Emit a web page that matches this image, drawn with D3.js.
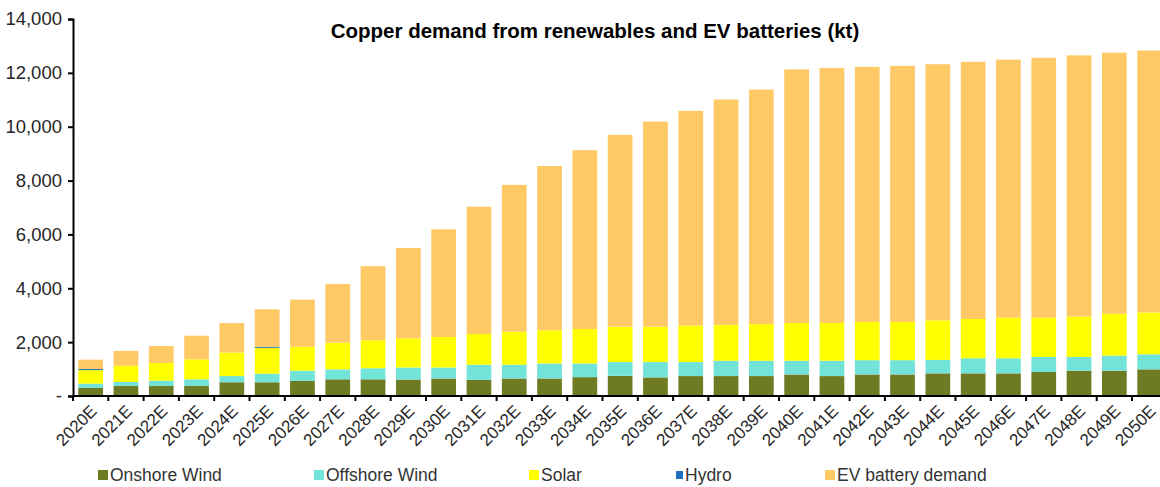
<!DOCTYPE html>
<html>
<head>
<meta charset="utf-8">
<script src="https://cdn.jsdelivr.net/npm/d3@7"></script>
<style>
	body { margin: 0; background: #fff; }
	svg { display: block; font-family: 'Liberation Sans', Arial, sans-serif; }
	.axis path, .axis line { stroke: #000; stroke-width: 2; }
	.axis text { fill: #262626; }
</style>
</head>
<body>
<div id="chart"></div>
<script>
var years = [ '2020E', '2021E', '2022E', '2023E', '2024E', '2025E', '2026E', '2027E', '2028E', '2029E',
	'2030E', '2031E', '2032E', '2033E', '2034E', '2035E', '2036E', '2037E', '2038E', '2039E',
	'2040E', '2041E', '2042E', '2043E', '2044E', '2045E', '2046E', '2047E', '2048E', '2049E', '2050E' ];

var onshoreWind = [ 300, 370, 370, 370, 510, 510, 560, 620, 620, 610, 650, 600, 650, 650, 700, 750,
	690, 740, 740, 740, 800, 740, 800, 800, 840, 840, 840, 890, 940, 940, 990 ];
var offshoreWind = [ 160, 150, 200, 250, 230, 320, 380, 370, 410, 450, 410, 560, 510, 560, 510, 510,
	570, 520, 570, 570, 510, 570, 530, 530, 500, 560, 560, 560, 510, 560, 560 ];
var solar = [ 500, 605, 655, 740, 870, 960, 890, 990, 1040, 1080, 1130, 1140, 1230, 1230, 1280, 1310,
	1310, 1360, 1330, 1360, 1400, 1400, 1420, 1420, 1470, 1460, 1510, 1460, 1500, 1550, 1550 ];
var hydro = [ 40, 0, 0, 0, 0, 40, 0, 0, 0, 0, 0, 0, 0, 0, 0, 0,
	0, 0, 0, 0, 0, 0, 0, 0, 0, 0, 0, 0, 0, 0, 0 ];
var evBattery = [ 350, 550, 630, 880, 1100, 1390, 1750, 2180, 2750, 3360, 4000, 4730, 5450, 6100, 6640, 7130,
	7620, 7970, 8370, 8710, 9420, 9470, 9470, 9510, 9510, 9550, 9580, 9650, 9700, 9700, 9730 ];

var yTicks = [ 0, 2000, 4000, 6000, 8000, 10000, 12000, 14000 ];

var series = [
	{ key: 'onshore', name: 'Onshore Wind', color: '#6e7b22', values: onshoreWind },
	{ key: 'offshore', name: 'Offshore Wind', color: '#72e3d9', values: offshoreWind },
	{ key: 'solar', name: 'Solar', color: '#ffff00', values: solar },
	{ key: 'hydro', name: 'Hydro', color: '#1f6fc0', values: hydro },
	{ key: 'ev', name: 'EV battery demand', color: '#ffc966', values: evBattery }
];

var sizes = { width: 1160, height: 487 };
var padding = { top: 19, left: 73, bottom: 91 };

var els = {};
els.svg = d3.select( '#chart' ).append( 'svg' )
	.attr( 'width', sizes.width )
	.attr( 'height', sizes.height );

var table = years.map( function ( y, i ) {
	var row = { year: y };
	series.forEach( function ( s ) { row[s.key] = s.values[i]; } );
	return row;
} );

var stack = d3.stack().keys( series.map( function ( s ) { return s.key; } ) );
var layers = stack( table );

var scales = {};
scales.x = d3.scaleBand()
	.domain( years )
	.range( [ padding.left, padding.left + years.length * 35.3 ] )
	.paddingInner( 0.3 )
	.paddingOuter( 0.15 );

scales.y = d3.scaleLinear()
	.domain( [ 0, 14000 ] )
	.range( [ sizes.height - padding.bottom, padding.top ] );

// bars
els.svg.selectAll( 'g.layer' )
	.data( layers )
	.enter()
	.append( 'g' )
	.classed( 'layer', true )
	.attr( 'fill', function ( d, i ) { return series[i].color; } )
	.selectAll( 'rect' )
	.data( function ( d ) { return d; } )
	.enter()
	.append( 'rect' )
	.attr( 'x', function ( d ) { return scales.x( d.data.year ); } )
	.attr( 'width', scales.x.bandwidth() )
	.attr( 'y', function ( d ) { return scales.y( d[1] ); } )
	.attr( 'height', function ( d ) { return scales.y( d[0] ) - scales.y( d[1] ); } );

// y axis
els.yAxis = els.svg.append( 'g' )
	.classed( 'axis', true )
	.attr( 'transform', 'translate(' + padding.left + ',0)' )
	.call( d3.axisLeft( scales.y )
		.tickValues( yTicks )
		.tickSize( 5 )
		.tickPadding( 6 )
		.tickFormat( function ( d ) { return d === 0 ? '-' : d3.format( ',' )( d ); } ) );

els.yAxis.selectAll( 'text' ).style( 'font-size', '18.5px' );

// x axis
var step = scales.x.step();
var baseY = scales.y( 0 );

els.xAxis = els.svg.append( 'g' )
	.classed( 'axis', true );

els.xAxis.append( 'line' )
	.attr( 'x1', padding.left )
	.attr( 'x2', sizes.width )
	.attr( 'y1', baseY )
	.attr( 'y2', baseY );

els.xAxis.selectAll( 'line.tick' )
	.data( years )
	.enter()
	.append( 'line' )
	.classed( 'tick', true )
	.attr( 'x1', function ( d ) { return scales.x( d ) - step * 0.15; } )
	.attr( 'x2', function ( d ) { return scales.x( d ) - step * 0.15; } )
	.attr( 'y1', baseY )
	.attr( 'y2', baseY + 5 );

els.xAxis.selectAll( 'text' )
	.data( years )
	.enter()
	.append( 'text' )
	.attr( 'text-anchor', 'end' )
	.style( 'font-size', '17px' )
	.attr( 'transform', function ( d ) {
		var cx = scales.x( d ) + scales.x.bandwidth() / 2;
		return 'translate(' + ( cx + 3 ) + ',' + ( baseY + 12 ) + ') rotate(-45)';
	} )
	.attr( 'dy', '0.35em' )
	.text( function ( d ) { return d; } );

// title
els.svg.append( 'text' )
	.attr( 'x', 595 )
	.attr( 'y', 38 )
	.attr( 'text-anchor', 'middle' )
	.style( 'font-size', '20.5px' )
	.style( 'font-weight', 'bold' )
	.style( 'fill', '#000' )
	.text( 'Copper demand from renewables and EV batteries (kt)' );

// legend
var legendX = [ 98, 314, 529, 676, 825 ];
var legend = els.svg.append( 'g' )
	.selectAll( 'g' )
	.data( series )
	.enter()
	.append( 'g' )
	.attr( 'transform', function ( d, i ) { return 'translate(' + legendX[i] + ',475)'; } );

legend.append( 'rect' )
	.attr( 'x', 0 )
	.attr( 'y', function ( d ) { return d.key === 'hydro' ? -4 : -5; } )
	.attr( 'width', function ( d ) { return d.key === 'hydro' ? 7 : 10; } )
	.attr( 'height', function ( d ) { return d.key === 'hydro' ? 8 : 10; } )
	.attr( 'fill', function ( d ) { return d.color; } );

legend.append( 'text' )
	.attr( 'x', function ( d ) { return d.key === 'hydro' ? 9 : 12; } )
	.attr( 'dy', '0.35em' )
	.style( 'font-size', '17.5px' )
	.style( 'fill', '#333' )
	.text( function ( d ) { return d.name; } );
</script>
</body>
</html>
